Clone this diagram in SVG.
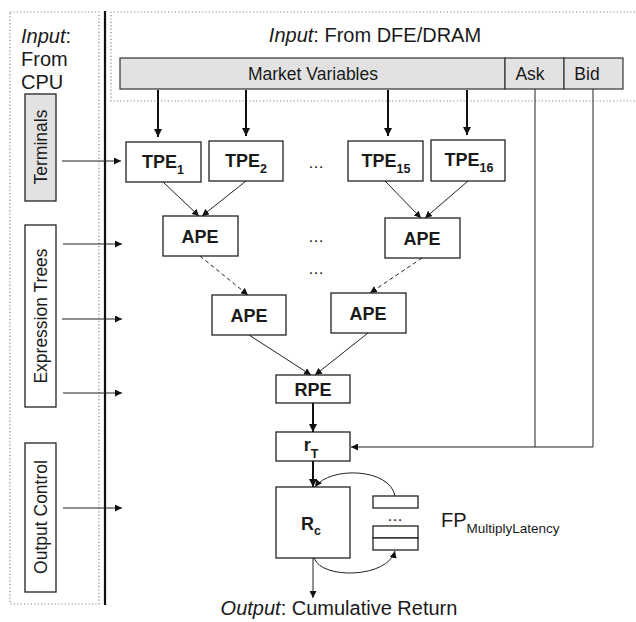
<svg xmlns="http://www.w3.org/2000/svg" width="636" height="622" viewBox="0 0 636 622">
  <style>
    text { font-family: "Liberation Sans", Arial, sans-serif; fill: #1a1a1a; }
    .node rect { fill: #fff; stroke: #222; stroke-width: 1.3; }
    .lbl { font-size: 18px; font-weight: bold; text-anchor: middle; }
    .sub { font-size: 12.5px; font-weight: bold; }
    .side rect { stroke: #222; stroke-width: 1.3; }
    .side text { font-size: 17.5px; text-anchor: middle; }
    .bar text { font-size: 17.5px; text-anchor: middle; }
    .bar rect { fill: #e2e2e2; stroke: #333; stroke-width: 1.2; }
    .frame { fill: none; stroke: #888; stroke-width: 1.2; stroke-dasharray: 1.2 2.2; }
    .thin { stroke: #222; stroke-width: 1; fill: none; }
    .thick { stroke: #111; stroke-width: 2; fill: none; }
    .dash { stroke: #222; stroke-width: 1; fill: none; stroke-dasharray: 4 3; }
    .dots { font-size: 16px; text-anchor: middle; }
    .big { font-size: 20px; }
  </style>
  <defs>
    <marker id="ah" viewBox="0 0 10 10" refX="10" refY="5" markerWidth="7" markerHeight="7" markerUnits="userSpaceOnUse" orient="auto">
      <path d="M0,0 L10,5 L0,10 z" fill="#111"/>
    </marker>
    <marker id="ahb" viewBox="0 0 10 10" refX="10" refY="5" markerWidth="8" markerHeight="8" markerUnits="userSpaceOnUse" orient="auto">
      <path d="M0,0 L10,5 L0,10 z" fill="#111"/>
    </marker>
  </defs>

  <!-- input regions -->
  <rect class="frame" x="10" y="12" width="89" height="592"/>
  <path class="frame" d="M635,12 H111 V101 H635"/>
  <line x1="105" y1="11" x2="105" y2="605" stroke="#111" stroke-width="2.2"/>

  <text class="big" x="21" y="43"><tspan font-style="italic">Input</tspan>:</text>
  <text class="big" x="21" y="66">From</text>
  <text class="big" x="21" y="89">CPU</text>
  <text class="big" x="375" y="42" text-anchor="middle"><tspan font-style="italic">Input</tspan>: From DFE/DRAM</text>

  <!-- market data bar -->
  <g id="market" class="bar">
    <rect x="120" y="58" width="385" height="31"/>
    <text x="313" y="80">Market Variables</text>
  </g>
  <g id="ask" class="bar">
    <rect x="505" y="58" width="59" height="31"/>
    <text x="530" y="80">Ask</text>
  </g>
  <g id="bid" class="bar">
    <rect x="564" y="58" width="59" height="31"/>
    <text x="587" y="80">Bid</text>
  </g>

  <!-- side control blocks -->
  <g id="terminals" class="side">
    <rect x="25" y="94" width="31" height="107" fill="#e2e2e2"/>
    <text transform="translate(47,147) rotate(-90)">Terminals</text>
  </g>
  <g id="expression-trees" class="side">
    <rect x="25" y="225" width="31" height="182" fill="#fff"/>
    <text transform="translate(47,316) rotate(-90)">Expression Trees</text>
  </g>
  <g id="output-control" class="side">
    <rect x="25" y="443" width="31" height="149" fill="#fff"/>
    <text transform="translate(47,517) rotate(-90)">Output Control</text>
  </g>

  <!-- processing elements -->
  <g id="tpe1" class="node">
    <rect x="126" y="142" width="75" height="40"/>
    <text class="lbl" x="163" y="168">TPE<tspan class="sub" dy="6">1</tspan></text>
  </g>
  <g id="tpe2" class="node">
    <rect x="209" y="141" width="74" height="40"/>
    <text class="lbl" x="246" y="167">TPE<tspan class="sub" dy="6">2</tspan></text>
  </g>
  <g id="tpe15" class="node">
    <rect x="348" y="141" width="75" height="40"/>
    <text class="lbl" x="386" y="167">TPE<tspan class="sub" dy="6">15</tspan></text>
  </g>
  <g id="tpe16" class="node">
    <rect x="431" y="140" width="74" height="41"/>
    <text class="lbl" x="469" y="166">TPE<tspan class="sub" dy="6">16</tspan></text>
  </g>
  <text class="dots" x="316" y="168">…</text>

  <g id="ape-l1" class="node">
    <rect x="163" y="216" width="75" height="40"/>
    <text class="lbl" x="200" y="243">APE</text>
  </g>
  <g id="ape-r1" class="node">
    <rect x="385" y="218" width="75" height="40"/>
    <text class="lbl" x="422" y="245">APE</text>
  </g>
  <text class="dots" x="316" y="242">…</text>
  <text class="dots" x="316" y="274">…</text>

  <g id="ape-l2" class="node">
    <rect x="212" y="295" width="74" height="40"/>
    <text class="lbl" x="249" y="322">APE</text>
  </g>
  <g id="ape-r2" class="node">
    <rect x="331" y="293" width="75" height="40"/>
    <text class="lbl" x="368" y="320">APE</text>
  </g>

  <g id="rpe" class="node">
    <rect x="276" y="375" width="74" height="28"/>
    <text class="lbl" x="313" y="396">RPE</text>
  </g>
  <g id="rt" class="node">
    <rect x="276" y="432" width="74" height="29"/>
    <text class="lbl" x="311" y="451">r<tspan class="sub" dy="7">T</tspan></text>
  </g>
  <g id="rc" class="node">
    <rect x="276" y="487" width="74" height="71"/>
    <text class="lbl" x="311" y="530">R<tspan class="sub" dy="5">c</tspan></text>
  </g>

  <g id="fp-pipeline" class="node">
    <rect x="373" y="496" width="45" height="12"/>
    <rect x="373" y="526" width="45" height="12"/>
    <rect x="373" y="538" width="45" height="12"/>
    <text class="dots" x="395" y="521" font-size="14">…</text>
  </g>
  <text class="big" x="441" y="527">FP<tspan font-size="13.5" dy="6">MultiplyLatency</tspan></text>

  <text class="big" x="339" y="615" text-anchor="middle"><tspan font-style="italic">Output</tspan>: Cumulative Return</text>

  <!-- connectors -->
  <g id="connectors">
    <line class="thick" x1="158" y1="90" x2="158" y2="137" marker-end="url(#ahb)"/>
    <line class="thick" x1="246" y1="90" x2="246" y2="136" marker-end="url(#ahb)"/>
    <line class="thick" x1="388" y1="90" x2="388" y2="136" marker-end="url(#ahb)"/>
    <line class="thick" x1="467" y1="90" x2="467" y2="135" marker-end="url(#ahb)"/>

    <line class="thin" x1="62" y1="161" x2="121" y2="161" marker-end="url(#ah)"/>
    <line class="thin" x1="63" y1="244" x2="122" y2="244" marker-end="url(#ah)"/>
    <line class="thin" x1="62" y1="319" x2="122" y2="319" marker-end="url(#ah)"/>
    <line class="thin" x1="63" y1="393" x2="122" y2="393" marker-end="url(#ah)"/>
    <line class="thin" x1="63" y1="508" x2="122" y2="508" marker-end="url(#ah)"/>

    <line class="thin" x1="163" y1="182" x2="199" y2="216" marker-end="url(#ah)"/>
    <line class="thin" x1="246" y1="181" x2="202" y2="216" marker-end="url(#ah)"/>
    <line class="thin" x1="385" y1="181" x2="421" y2="218" marker-end="url(#ah)"/>
    <line class="thin" x1="468" y1="181" x2="425" y2="218" marker-end="url(#ah)"/>

    <line class="dash" x1="200" y1="256" x2="248" y2="295" marker-end="url(#ah)"/>
    <line class="dash" x1="422" y1="258" x2="370" y2="293" marker-end="url(#ah)"/>

    <line class="thin" x1="249" y1="335" x2="311" y2="375" marker-end="url(#ah)"/>
    <line class="thin" x1="368" y1="333" x2="315" y2="375" marker-end="url(#ah)"/>

    <line class="thick" x1="313" y1="403" x2="313" y2="432" marker-end="url(#ahb)"/>
    <line class="thick" x1="313" y1="461" x2="313" y2="487" marker-end="url(#ahb)"/>

    <path class="thin" d="M535,89 V447"/>
    <path class="thin" d="M593,89 V447 H351" marker-end="url(#ah)"/>

    <path class="thin" d="M395,496 C390,468 330,466 315,487" marker-end="url(#ah)"/>
    <path class="thin" d="M314,558 C322,580 388,578 395,551" marker-end="url(#ah)"/>
    <line class="thin" x1="313" y1="558" x2="313" y2="598" marker-end="url(#ah)"/>
  </g>
</svg>
